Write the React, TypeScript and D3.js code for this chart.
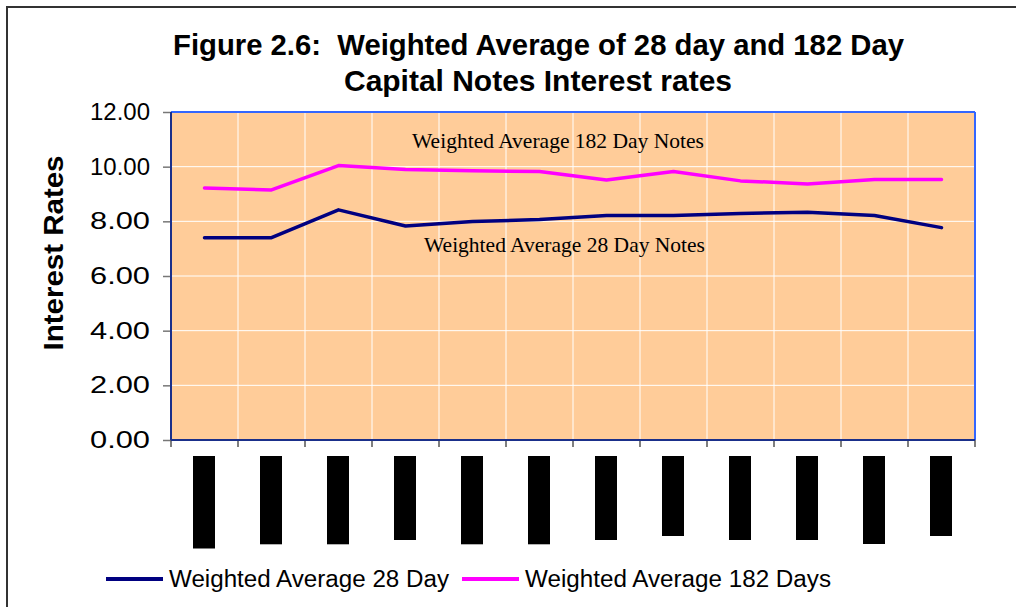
import React, { useRef, useEffect } from "react";
import * as d3 from "d3";

const categories = ["P1", "P2", "P3", "P4", "P5", "P6", "P7", "P8", "P9", "P10", "P11", "P12"];
const avg28 = [7.4, 7.4, 8.42, 7.83, 7.99, 8.07, 8.21, 8.21, 8.29, 8.33, 8.21, 7.77];
const avg182 = [9.22, 9.15, 10.04, 9.9, 9.85, 9.82, 9.51, 9.82, 9.48, 9.37, 9.53, 9.53];
// the category labels are blacked out in the source; relative length of each block
const labelLengths = [92.5, 88.3, 88.3, 84, 88.3, 88.3, 84, 80, 84, 84, 88, 80];
const yTicks = [0, 2, 4, 6, 8, 10, 12];

const W = 1016;
const H = 607;
const SANS = "Liberation Sans, Arial, sans-serif";
const SERIF = "Liberation Serif, Times New Roman, serif";

const App = () => {
  const svgRef = useRef<SVGSVGElement>(null);

  useEffect(() => {
    const svg = d3.select(svgRef.current);
    svg.selectAll("*").remove();

    const margin = { top: 112, right: 41, bottom: 167, left: 171 };
    const innerWidth = W - margin.left - margin.right;
    const innerHeight = H - margin.top - margin.bottom;

    // outer frame
    svg.append("rect")
      .attr("x", 7).attr("y", 7)
      .attr("width", W).attr("height", H)
      .attr("fill", "white")
      .attr("stroke", "#333").attr("stroke-width", 2);

    // title
    const title = svg.append("text")
      .attr("text-anchor", "middle")
      .attr("font-family", SANS)
      .attr("font-weight", "bold")
      .attr("font-size", 30)
      .attr("fill", "#000")
      .style("white-space", "pre");
    title.append("tspan").attr("x", 538.5).attr("y", 55)
      .attr("textLength", 731).attr("lengthAdjust", "spacingAndGlyphs")
      .text("Figure 2.6:  Weighted Average of 28 day and 182 Day");
    title.append("tspan").attr("x", 538).attr("y", 91)
      .attr("textLength", 388).attr("lengthAdjust", "spacingAndGlyphs")
      .text("Capital Notes Interest rates");

    const xScale = d3.scaleBand().domain(categories).range([0, innerWidth]);
    const yScale = d3.scaleLinear().domain([0, 12]).range([innerHeight, 0]);

    const g = svg.append("g")
      .attr("transform", `translate(${margin.left},${margin.top})`);

    g.append("rect")
      .attr("width", innerWidth).attr("height", innerHeight)
      .attr("fill", "#FFCC99");

    // gridlines
    g.selectAll(".hgrid").data(yTicks.slice(1, -1)).enter().append("line")
      .attr("x1", 0).attr("x2", innerWidth)
      .attr("y1", d => yScale(d)).attr("y2", d => yScale(d))
      .attr("stroke", "#fff").attr("stroke-width", 1);
    g.selectAll(".vgrid").data(categories.slice(1)).enter().append("line")
      .attr("x1", d => xScale(d)!).attr("x2", d => xScale(d)!)
      .attr("y1", 0).attr("y2", innerHeight)
      .attr("stroke", "#fff").attr("stroke-width", 1);

    // plot border: blue top/right, navy axes
    g.append("line").attr("x1", 0).attr("x2", innerWidth).attr("y1", 0).attr("y2", 0)
      .attr("stroke", "#3366FF").attr("stroke-width", 2);
    g.append("line").attr("x1", innerWidth).attr("x2", innerWidth).attr("y1", 0).attr("y2", innerHeight)
      .attr("stroke", "#3366FF").attr("stroke-width", 2);

    // y axis
    const yAxis = g.append("g")
      .call(d3.axisLeft(yScale).tickValues(yTicks).tickSize(8).tickFormat(d3.format(".2f")));
    yAxis.select(".domain").remove();
    yAxis.selectAll(".tick line").attr("stroke", "#777").attr("stroke-width", 1.5);
    yAxis.selectAll(".tick text")
      .attr("x", -21)
      .attr("font-family", SANS)
      .attr("font-size", 23).attr("fill", "#000")
      .attr("textLength", 60).attr("lengthAdjust", "spacingAndGlyphs");

    // x axis ticks at band boundaries
    const bounds = categories.map(c => xScale(c)!).concat([innerWidth]);
    g.selectAll(".xtick").data(bounds).enter().append("line")
      .attr("x1", d => d).attr("x2", d => d)
      .attr("y1", innerHeight).attr("y2", innerHeight + 7)
      .attr("stroke", "#555").attr("stroke-width", 1.5);

    g.append("line").attr("x1", 0).attr("x2", 0).attr("y1", 0).attr("y2", innerHeight)
      .attr("stroke", "#1a2f8a").attr("stroke-width", 2);
    g.append("line").attr("x1", 0).attr("x2", innerWidth).attr("y1", innerHeight).attr("y2", innerHeight)
      .attr("stroke", "#1a2f8a").attr("stroke-width", 2);

    // blacked-out category labels
    g.selectAll(".lbl").data(categories).enter().append("rect")
      .attr("x", d => xScale(d)! + xScale.bandwidth() / 2 - 11.5)
      .attr("y", innerHeight + 16)
      .attr("width", 22)
      .attr("height", (d, i) => labelLengths[i])
      .attr("fill", "#000");

    const line = d3.line<number>()
      .x((d, i) => xScale(categories[i])! + xScale.bandwidth() / 2)
      .y(d => yScale(d));

    g.append("path").datum(avg182)
      .attr("d", line).attr("fill", "none")
      .attr("stroke", "#FF00FF").attr("stroke-width", 3.5)
      .attr("stroke-linecap", "round").attr("stroke-linejoin", "round");
    g.append("path").datum(avg28)
      .attr("d", line).attr("fill", "none")
      .attr("stroke", "#000080").attr("stroke-width", 3.5)
      .attr("stroke-linecap", "round").attr("stroke-linejoin", "round");

    // annotations
    svg.append("text").attr("x", 412).attr("y", 148)
      .attr("font-family", SERIF)
      .attr("font-size", 21).attr("fill", "#000")
      .attr("textLength", 292).attr("lengthAdjust", "spacingAndGlyphs")
      .text("Weighted Average 182 Day Notes");
    svg.append("text").attr("x", 424).attr("y", 252)
      .attr("font-family", SERIF)
      .attr("font-size", 21).attr("fill", "#000")
      .attr("textLength", 281).attr("lengthAdjust", "spacingAndGlyphs")
      .text("Weighted Average 28 Day Notes");

    // y axis title
    svg.append("text")
      .attr("transform", "translate(63,253) rotate(-90)")
      .attr("text-anchor", "middle")
      .attr("font-family", SANS)
      .attr("font-weight", "bold")
      .attr("font-size", 28).attr("fill", "#000")
      .attr("textLength", 195).attr("lengthAdjust", "spacingAndGlyphs")
      .text("Interest Rates");

    // legend
    const legend = [
      { label: "Weighted Average 28 Day", color: "#000080", x: 106, len: 280 },
      { label: "Weighted Average 182 Days", color: "#FF00FF", x: 462, len: 306 },
    ];
    const lg = svg.selectAll(".legend").data(legend).enter().append("g")
      .attr("transform", d => `translate(${d.x},579)`);
    lg.append("line").attr("x1", 0).attr("x2", 57).attr("y1", 0).attr("y2", 0)
      .attr("stroke", d => d.color).attr("stroke-width", 4);
    lg.append("text").attr("x", 63).attr("y", 8)
      .attr("font-family", SANS)
      .attr("font-size", 23).attr("fill", "#000")
      .attr("textLength", d => d.len).attr("lengthAdjust", "spacingAndGlyphs")
      .text(d => d.label);
  }, []);

  return (
    <svg ref={svgRef} width={W} height={H}
      style={{ position: "absolute", left: 0, top: 0, background: "#fff" }} />
  );
};

export default App;
